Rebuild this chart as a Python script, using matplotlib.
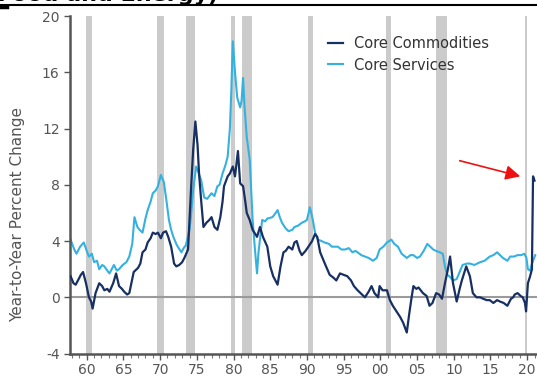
import matplotlib
matplotlib.use('Agg')
import matplotlib.pyplot as plt
import numpy as np

# core services, year-to-year % change
svc_year = [1958.2, 1958.7, 1959.0, 1959.5, 1960.0, 1960.4, 1960.7, 1961.1, 1961.4, 1961.8,
            1962.1, 1962.5, 1962.8, 1963.2, 1963.5, 1963.8, 1964.1, 1964.5, 1964.8, 1965.3,
            1965.8, 1966.2, 1966.6, 1966.9, 1967.3, 1967.6, 1968.0, 1968.4, 1968.7, 1969.1,
            1969.4, 1969.8, 1970.1, 1970.5, 1970.9, 1971.2, 1971.6, 1971.9, 1972.2, 1972.6,
            1972.8, 1973.3, 1973.6, 1973.9, 1974.4, 1974.6, 1974.9, 1975.3, 1975.6, 1976.0,
            1976.4, 1976.8, 1977.4, 1977.8, 1978.2, 1978.5, 1978.9, 1979.3, 1979.6, 1979.9,
            1980.1, 1980.3, 1980.6, 1980.9, 1981.3, 1981.5, 1981.7, 1981.9, 1982.2, 1982.6,
            1983.0, 1983.3, 1983.6, 1983.8, 1984.3, 1984.7, 1985.0, 1985.7, 1986.0, 1986.4,
            1986.7, 1987.0, 1987.5, 1987.9, 1988.4, 1988.7, 1989.2, 1989.7, 1990.1, 1990.4,
            1990.8, 1991.2, 1991.5, 1991.9, 1992.4, 1992.8, 1993.4, 1993.8, 1994.6, 1995.1,
            1995.6, 1996.1, 1996.6, 1997.0, 1997.3, 1997.8, 1998.3, 1998.8, 1999.4, 1999.9,
            2000.3, 2000.8, 2001.3, 2001.9, 2002.3, 2002.8, 2003.3, 2004.0, 2004.5, 2004.9,
            2005.4, 2005.8, 2006.3, 2006.8, 2007.2, 2007.6, 2008.0, 2008.5, 2008.9, 2009.2,
            2009.5, 2009.8, 2010.3, 2010.8, 2011.2, 2011.6, 2012.2, 2012.6, 2013.2, 2014.0,
            2014.6, 2015.3, 2015.8, 2016.3, 2016.7, 2017.1, 2017.7, 2018.1, 2018.6, 2019.1,
            2019.6, 2020.0, 2020.3, 2020.5, 2020.8, 2021.0, 2021.2, 2021.5]
svc_val = [4.1, 3.4, 3.1, 3.6, 3.9, 3.3, 2.9, 3.1, 2.5, 2.6,
           2.0, 2.3, 2.2, 1.9, 1.7, 2.0, 2.3, 1.9, 2.0, 2.3,
           2.5, 2.9, 3.8, 5.7, 5.0, 4.8, 4.6, 5.6, 6.2, 6.8,
           7.4, 7.6, 7.9, 8.7, 8.2, 7.1, 5.5, 4.8, 4.3, 3.8,
           3.6, 3.2, 3.5, 3.7, 4.8, 5.8, 7.6, 9.3, 8.9, 8.3,
           7.1, 7.0, 7.4, 7.2, 7.9, 8.0, 8.8, 9.4, 10.0, 12.0,
           14.7, 18.2, 16.0, 14.2, 13.5, 14.0, 15.6, 13.5, 11.4, 9.8,
           5.5, 3.5, 1.7, 3.2, 5.5, 5.4, 5.6, 5.7, 5.9, 6.2,
           5.7, 5.3, 4.9, 4.7, 4.8, 5.0, 5.1, 5.3, 5.4, 5.5,
           6.4, 5.5, 4.6, 4.1, 4.0, 3.9, 3.8, 3.6, 3.6, 3.4,
           3.4, 3.5, 3.2, 3.3, 3.2, 3.0, 2.9, 2.8, 2.6, 2.8,
           3.4, 3.6, 3.9, 4.1, 3.8, 3.6, 3.1, 2.8, 3.0, 3.0,
           2.8, 2.9, 3.3, 3.8, 3.6, 3.4, 3.3, 3.2, 3.1, 2.2,
           1.6, 1.5, 1.2, 1.3, 1.8, 2.3, 2.4, 2.4, 2.3, 2.5,
           2.6, 2.9, 3.0, 3.2, 3.0, 2.8, 2.6, 2.9, 2.9, 3.0,
           3.0, 3.1, 2.8, 2.0, 1.9, 2.3, 2.6, 3.0]

# core commodities, year-to-year % change
com_year = [1958.2, 1958.6, 1958.9, 1959.2, 1959.6, 1959.9, 1960.3, 1960.7, 1961.0, 1961.2,
            1961.6, 1962.1, 1962.5, 1962.8, 1963.2, 1963.5, 1964.0, 1964.4, 1964.8, 1965.2,
            1965.5, 1965.9, 1966.2, 1966.8, 1967.4, 1967.7, 1968.0, 1968.4, 1968.7, 1969.1,
            1969.4, 1969.8, 1970.1, 1970.5, 1970.8, 1971.2, 1971.5, 1971.9, 1972.3, 1972.6,
            1973.0, 1973.4, 1973.7, 1974.2, 1974.6, 1974.9, 1975.2, 1975.5, 1975.7, 1976.0,
            1976.3, 1976.7, 1977.1, 1977.4, 1977.8, 1978.2, 1978.6, 1978.9, 1979.1, 1979.6,
            1979.9, 1980.3, 1980.6, 1981.0, 1981.3, 1981.7, 1982.0, 1982.2, 1982.6, 1983.0,
            1983.6, 1984.0, 1984.4, 1985.0, 1985.4, 1985.8, 1986.4, 1986.8, 1987.2, 1987.5,
            1987.9, 1988.4, 1988.7, 1989.0, 1989.4, 1989.7, 1990.2, 1990.6, 1991.1, 1991.5,
            1991.8, 1992.2, 1992.6, 1993.0, 1993.5, 1994.0, 1994.4, 1994.9, 1995.4, 1995.9,
            1996.4, 1996.8, 1997.3, 1997.9, 1998.3, 1998.8, 1999.2, 1999.6, 2000.1, 2000.3,
            2000.7, 2001.3, 2001.7, 2002.1, 2002.6, 2003.1, 2003.5, 2004.0, 2004.3, 2004.6,
            2004.9, 2005.3, 2005.6, 2006.2, 2006.7, 2007.1, 2007.5, 2008.0, 2008.4, 2008.8,
            2009.2, 2009.6, 2009.9, 2010.3, 2010.8, 2011.2, 2011.5, 2012.1, 2012.6, 2013.0,
            2013.5, 2014.0, 2014.4, 2014.9, 2015.3, 2015.8, 2016.3, 2016.7, 2017.2, 2017.7,
            2018.2, 2018.5, 2018.7, 2019.1, 2019.5, 2019.8, 2020.1, 2020.25, 2020.5, 2020.8,
            2021.05, 2021.2, 2021.4]
com_val = [1.5, 1.0, 0.9, 1.2, 1.6, 1.8, 1.0, 0.0, -0.3, -0.8,
           0.3, 1.0, 0.8, 0.5, 0.6, 0.4, 1.0, 1.7, 0.8, 0.6,
           0.4, 0.2, 0.3, 1.8, 2.1, 2.4, 3.2, 3.4, 3.9, 4.2,
           4.6, 4.5, 4.6, 4.2, 4.6, 4.7, 4.3, 3.6, 2.4, 2.2,
           2.3, 2.5, 2.8, 3.4, 7.6, 10.5, 12.5, 10.8, 8.8, 6.8,
           5.0, 5.3, 5.5, 5.7, 5.0, 4.8, 5.7, 6.8, 7.9, 8.6,
           8.8, 9.3, 8.6, 10.4, 8.1, 7.9, 6.8, 6.0, 5.5, 4.8,
           4.3, 5.0, 4.3, 3.6, 2.2, 1.5, 0.9, 2.2, 3.2, 3.3,
           3.6, 3.4, 3.9, 4.0, 3.3, 3.0, 3.3, 3.6, 4.0, 4.5,
           4.3, 3.2, 2.7, 2.2, 1.6, 1.4, 1.2, 1.7, 1.6, 1.5,
           1.2, 0.8, 0.5, 0.2, 0.0, 0.4, 0.8, 0.3, 0.0, 0.8,
           0.5, 0.5, -0.2, -0.6, -1.0, -1.4, -1.8, -2.5, -1.3, -0.2,
           0.8, 0.6, 0.7, 0.3, 0.1, -0.6, -0.4, 0.3, 0.2, -0.1,
           1.0, 2.0, 2.9, 1.0, -0.3, 0.6, 1.2, 2.2, 1.5, 0.3,
           0.0, 0.0, -0.1, -0.2, -0.2, -0.4, -0.2, -0.3, -0.4, -0.6,
           -0.1, 0.0, 0.2, 0.3, 0.1, 0.0, -0.4, -1.0, 1.0, 1.5,
           2.0, 8.6, 8.3]

# recessions (start, end)
rec_start = [1960.3, 1969.95, 1973.9, 1980.0, 1981.55, 1990.55, 2001.2, 2007.95, 2020.15]
rec_end = [1961.1, 1970.9, 1975.2, 1980.55, 1982.9, 1991.2, 2001.9, 2009.5, 2020.35]

yticks = [-4, 0, 4, 8, 12, 16, 20]
xtick_years = [1960, 1965, 1970, 1975, 1980, 1985, 1990, 1995, 2000, 2005, 2010, 2015, 2020]
xtick_labels = ['60', '65', '70', '75', '80', '85', '90', '95', '00', '05', '10', '15', '20']

plt.rcParams['font.family'] = ['DejaVu Sans']

fig = plt.figure(figsize=(5.37, 3.81), dpi=100)
ax = fig.add_axes([70/537, 1 - 353.6/381, 467/537, (353.6 - 16)/381])

for s, e in zip(rec_start, rec_end):
    ax.axvspan(s, e, color='#cbcbcb', lw=0, zorder=0)
ax.axhline(0, color='#9a9a9a', lw=1.5, zorder=1)

ax.plot(svc_year, svc_val, color='#35b1e0', lw=1.5, label='Core Services', zorder=2)
ax.plot(com_year, com_val, color='#172f62', lw=1.6, label='Core Commodities', zorder=3)

ax.set_xlim(1958.12, 2021.74)
ax.set_ylim(-4, 20)
ax.set_yticks(yticks)
ax.set_yticklabels([str(v) for v in yticks])
ax.set_xticks([y + 0.4 for y in xtick_years])
ax.set_xticklabels(xtick_labels)
ax.set_xticks(np.arange(1958.4, 2021.5, 1.0), minor=True)
ax.tick_params(axis='both', colors='#555555', labelcolor='#555555', labelsize=10, width=1, length=4)
ax.tick_params(axis='x', which='minor', colors='#777777', length=3, width=0.8)
ax.tick_params(axis='x', pad=3)

for side in ['top', 'right']:
    ax.spines[side].set_visible(False)
for side in ['left', 'bottom']:
    ax.spines[side].set_color('#555555')
    ax.spines[side].set_linewidth(1.8)

fig.text(18/537, 1 - 214/381, 'Year-to-Year Percent Change', rotation=90,
         ha='center', va='center', fontsize=11, color='#555555')

handles, labels = ax.get_legend_handles_labels()
leg = ax.legend(handles[::-1], labels[::-1], loc='upper left',
                bbox_to_anchor=(328/537, 1 - 36/381), bbox_transform=fig.transFigure,
                frameon=False, borderpad=0, borderaxespad=0, handlelength=1.05,
                handletextpad=0.7, labelspacing=0.45, fontsize=10.5)
for t in leg.get_texts():
    t.set_color('#333333')

# cut-off title and rule from the screenshot
fig.text(218/537, 1 - 1/381, '(Excluding Food and Energy)', ha='right', va='baseline',
         fontsize=16, fontweight='bold', color='black')
fig.add_artist(plt.Line2D([0, 1], [1 - 5/381, 1 - 5/381], color='black', lw=1.5,
                          transform=fig.transFigure))
fig.add_artist(plt.Line2D([0, 7/537], [1 - 6.5/381, 1 - 6.5/381], color='black', lw=2.5,
                          transform=fig.transFigure))

# red arrow pointing at the latest spike
ax.annotate('', xy=(523/537, 1 - 177/381), xytext=(457/537, 1 - 160/381),
            xycoords='figure fraction', textcoords='figure fraction',
            arrowprops=dict(arrowstyle='-|>', color='#ee1111', lw=1.2, mutation_scale=22))

fig.savefig('out.png', dpi=100)
